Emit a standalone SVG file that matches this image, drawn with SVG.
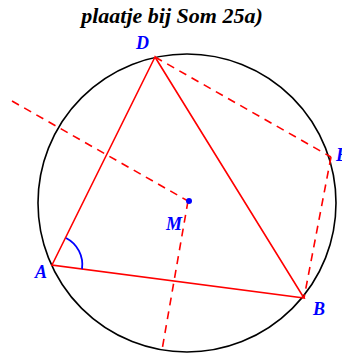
<svg xmlns="http://www.w3.org/2000/svg" width="342" height="356" viewBox="0 0 342 356">
<style>
.lbl{font-family:"Liberation Serif",serif;font-weight:bold;font-style:italic;font-size:18px;fill:#0000ff}
.title{font-family:"Liberation Serif",serif;font-weight:bold;font-style:italic;font-size:22px;fill:#000}
.solid{stroke:#ff0000;stroke-width:1.6;fill:none}
.dash{stroke:#ff0000;stroke-width:1.6;fill:none;stroke-dasharray:8 6}
</style>
<rect width="342" height="356" fill="#fff"/>
<text class="title" x="172" y="23" text-anchor="middle">plaatje bij Som 25a)</text>
<g id="circle"><circle cx="187" cy="203" r="149" fill="none" stroke="#000" stroke-width="1.6"/></g>
<g id="connectors">
<polygon class="solid" points="155,57 52,265 304,298"/>
<line class="dash" x1="155" y1="57" x2="331" y2="157"/>
<line class="dash" x1="331" y1="157" x2="304" y2="298"/>
<line class="dash" x1="12" y1="101" x2="188" y2="201"/>
<line class="dash" x1="188" y1="201" x2="162" y2="350"/>
<path d="M66,238 A30,30 0 0 1 82,269" fill="none" stroke="#0000ff" stroke-width="1.8"/>
</g>
<g id="M"><circle cx="189" cy="201" r="3" fill="#0000ff"/><text class="lbl" x="166" y="230">M</text></g>
<g id="D"><text class="lbl" x="136" y="49">D</text></g>
<g id="A"><text class="lbl" x="35" y="278">A</text></g>
<g id="B"><text class="lbl" x="313" y="315">B</text></g>
<g id="E"><text class="lbl" x="336" y="161">E</text></g>
</svg>
